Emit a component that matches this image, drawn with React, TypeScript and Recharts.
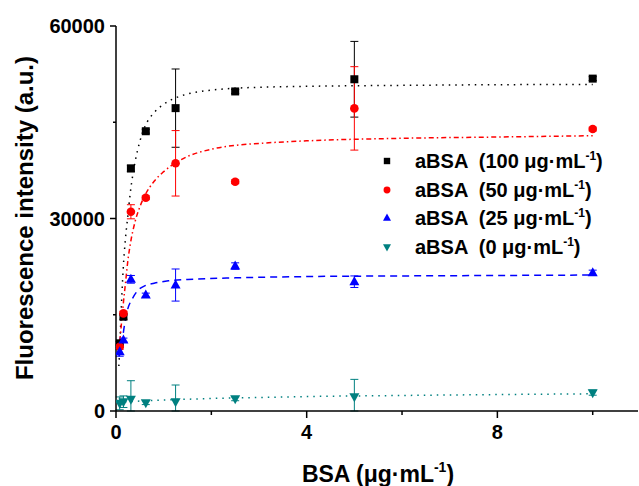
import React from 'react';
import { ComposedChart, Line, Scatter, XAxis, YAxis, ErrorBar } from 'recharts';

// BSA concentrations (µg/mL)
const bsa = [0.078, 0.156, 0.3125, 0.625, 1.25, 2.5, 5, 10];

// measured intensity + error per aBSA level
const aBsa100 = [10550, 14700, 37800, 43600, 47200, 49800, 51700, 51800];
const aBsa100Err = [300, 400, 500, 300, 6100, 300, 5900, 300];
const aBsa50 = [10020, 15220, 31050, 33230, 38600, 35730, 47160, 43940];
const aBsa50Err = [400, 300, 1100, 300, 5100, 300, 6500, 300];
const aBsa25 = [9240, 11060, 20520, 18070, 19630, 22590, 20150, 21550];
const aBsa25Err = [700, 300, 600, 300, 2500, 500, 900, 400];
const aBsa0 = [1190, 1450, 1820, 1300, 1450, 1900, 2230, 2860];
const aBsa0Err = [1000, 900, 2900, 300, 2600, 300, 2700, 400];

// fitted curves
const fit100X = [0.06, 0.08, 0.1, 0.15, 0.2, 0.25, 0.3, 0.4, 0.5, 0.6, 0.8, 1, 1.25, 1.5, 2, 2.5, 3, 4, 6, 8, 10];
const fit100Y = [7000, 10000, 14000, 22000, 27000, 30500, 34000, 38800, 42000, 44200, 46500, 47800, 48800, 49400, 50000, 50300, 50450, 50600, 50750, 50850, 50900];
const fit50X = [0.05, 0.1, 0.15, 0.2, 0.25, 0.3, 0.4, 0.5, 0.6, 0.8, 1, 1.4, 2, 2.5, 3, 4, 6, 8, 10];
const fit50Y = [9000, 12500, 16500, 20000, 23500, 26000, 29500, 31800, 33500, 35800, 37300, 39300, 40800, 41400, 41700, 42100, 42500, 42700, 42900];
const fit25X = [0.06, 0.12, 0.18, 0.24, 0.35, 0.46, 0.6, 0.8, 1.1, 1.5, 2.5, 4, 6, 8, 10];
const fit25Y = [8500, 10500, 13500, 15700, 17600, 18800, 19500, 19900, 20300, 20500, 20750, 20950, 21050, 21120, 21190];
const fit0X = [0.05, 0.5, 1, 2, 3, 4, 6, 8, 10];
const fit0Y = [1350, 1550, 1700, 1950, 2100, 2250, 2420, 2560, 2680];

const xTicks = [0, 2, 4, 6, 8, 10];
const yTicks = [0, 15000, 30000, 45000, 60000];
const frameTicks = [0, 1, 2, 3, 4, 5, 6, 7, 8, 9, 10];

const FONT = "'Liberation Sans', Arial, Helvetica, sans-serif";
const TEAL = '#008080';

const toPoints = (ys: number[], errs: number[]) =>
  bsa.map((x, i) => ({ x, y: ys[i], e: [Math.min(errs[i], ys[i]), errs[i]] }));
const toFit = (xs: number[], ys: number[]) => xs.map((x, i) => ({ x, y: ys[i] }));

const series = [
  { name: '100', color: '#000000', pts: toPoints(aBsa100, aBsa100Err), fit: toFit(fit100X, fit100Y), dash: '1.5 5', shape: 'square' },
  { name: '50', color: '#ff0000', pts: toPoints(aBsa50, aBsa50Err), fit: toFit(fit50X, fit50Y), dash: '5 3 1.5 3', shape: 'circle' },
  { name: '25', color: '#0000ff', pts: toPoints(aBsa25, aBsa25Err), fit: toFit(fit25X, fit25Y), dash: '7 5', shape: 'up' },
  { name: '0', color: TEAL, pts: toPoints(aBsa0, aBsa0Err), fit: toFit(fit0X, fit0Y), dash: '1.5 5', shape: 'down' },
];

function Marker({ cx, cy, kind, color, s = 1 }: any) {
  if (kind === 'square') return <rect x={cx - 4 * s} y={cy - 4 * s} width={8 * s} height={8 * s} fill={color} />;
  if (kind === 'circle') return <circle cx={cx} cy={cy} r={4.3 * s} fill={color} />;
  if (kind === 'up')
    return <polygon points={`${cx},${cy - 5.5 * s} ${cx + 5 * s},${cy + 3.5 * s} ${cx - 5 * s},${cy + 3.5 * s}`} fill={color} />;
  return <polygon points={`${cx},${cy + 5.5 * s} ${cx + 5 * s},${cy - 3.5 * s} ${cx - 5 * s},${cy - 3.5 * s}`} fill={color} />;
}

const LeftTick = ({ x, y, payload }: any) => {
  const major = payload.value % 30000 === 0;
  return (
    <g>
      <line x1={x - (major ? 6 : 3)} x2={x} y1={y} y2={y} stroke="#000" strokeWidth={1.5} />
      {major && (
        <text x={x - 11} y={y + 7} textAnchor="end" fontFamily={FONT} fontWeight="bold" fontSize={20} fill="#000">
          {payload.value}
        </text>
      )}
    </g>
  );
};

const BottomTick = ({ x, y, payload }: any) => {
  const major = payload.value % 4 === 0;
  return (
    <g>
      <line x1={x} x2={x} y1={y} y2={y + (major ? 7 : 4)} stroke="#000" strokeWidth={1.5} />
      {major && (
        <text x={x} y={y + 28} textAnchor="middle" fontFamily={FONT} fontWeight="bold" fontSize={20} fill="#000">
          {payload.value}
        </text>
      )}
    </g>
  );
};

const TopTick = ({ x, y, payload }: any) => (
  <line x1={x} x2={x} y1={y} y2={y + (payload.value % 2 === 0 ? 6 : 3)} stroke="#000" strokeWidth={1.5} />
);

const RightTick = ({ x, y, payload }: any) => (
  <line x1={x - (payload.value % 2 === 0 ? 6 : 3)} x2={x} y1={y} y2={y} stroke="#000" strokeWidth={1.5} />
);

const YTitle = () => (
  <text x={33} y={218} transform="rotate(-90, 33, 218)" textAnchor="middle" fontFamily={FONT} fontWeight="bold" fontSize={24} fill="#000">
    Fluorescence intensity (a.u.)
  </text>
);

const XTitle = () => (
  <text x={378} y={482} textAnchor="middle" fontFamily={FONT} fontWeight="bold" fontSize={23} fill="#000">
    BSA (μg·mL<tspan dy={-10} fontSize={14}>-1</tspan>
    <tspan dy={10}>)</tspan>
  </text>
);

function LegendBox() {
  return (
    <div style={{ position: 'absolute', left: 372, top: 147, fontFamily: FONT, fontWeight: 'bold', fontSize: 20 }}>
      {series.map((s) => (
        <div key={s.name} style={{ display: 'flex', alignItems: 'center', height: 28.5, whiteSpace: 'pre' }}>
          <svg width={30} height={20} style={{ marginRight: 13 }}>
            <Marker cx={15} cy={10} kind={s.shape} color={s.color} s={0.8} />
          </svg>
          <span>
            aBSA  ({s.name} μg·mL<sup style={{ fontSize: 12 }}>-1</sup>)
          </span>
        </div>
      ))}
    </div>
  );
}

export default function App() {
  return (
    <div style={{ position: 'absolute', left: 0, top: 0, width: 639, height: 486, background: '#fff' }}>
      <ComposedChart width={639} height={486} margin={{ top: 26, right: 1, bottom: 0, left: 0 }}>
        <XAxis
          xAxisId="b"
          type="number"
          dataKey="x"
          domain={[0, 10.95]}
          ticks={xTicks}
          height={75}
          tickSize={0}
          tickMargin={0}
          tickLine={false}
          tick={<BottomTick />}
          axisLine={{ stroke: '#000', strokeWidth: 1.5 }}
          label={<XTitle />}
          allowDataOverflow
        />
        <XAxis
          xAxisId="t"
          orientation="top"
          type="number"
          domain={[0, 10]}
          ticks={frameTicks}
          height={0}
          tickSize={0}
          tickMargin={0}
          tickLine={false}
          tick={<TopTick />}
          axisLine={{ stroke: '#000', strokeWidth: 1.5 }}
          allowDataOverflow
        />
        <YAxis
          yAxisId="l"
          type="number"
          dataKey="y"
          domain={[0, 60000]}
          ticks={yTicks}
          width={116}
          tickSize={0}
          tickMargin={0}
          tickLine={false}
          tick={<LeftTick />}
          axisLine={{ stroke: '#000', strokeWidth: 1.5 }}
          label={<YTitle />}
          allowDataOverflow
        />
        <YAxis
          yAxisId="r"
          orientation="right"
          type="number"
          domain={[0, 10]}
          ticks={frameTicks}
          width={0}
          tickSize={0}
          tickMargin={0}
          tickLine={false}
          tick={<RightTick />}
          axisLine={{ stroke: '#000', strokeWidth: 1.5 }}
          allowDataOverflow
        />
        {series.map((s) => (
          <Line
            key={'fit' + s.name}
            xAxisId="b"
            yAxisId="l"
            data={s.fit}
            dataKey="y"
            type="monotone"
            stroke={s.color}
            strokeWidth={1.5}
            strokeDasharray={s.dash}
            dot={false}
            activeDot={false}
            isAnimationActive={false}
          />
        ))}
        {series.map((s) => (
          <Scatter
            key={'pts' + s.name}
            xAxisId="b"
            yAxisId="l"
            data={s.pts}
            fill={s.color}
            shape={(p: any) => <Marker cx={p.cx} cy={p.cy} kind={s.shape} color={s.color} />}
            isAnimationActive={false}
          >
            <ErrorBar dataKey="e" direction="y" width={4} stroke={s.color} strokeWidth={1} isAnimationActive={false} />
          </Scatter>
        ))}
      </ComposedChart>
      <LegendBox />
    </div>
  );
}
